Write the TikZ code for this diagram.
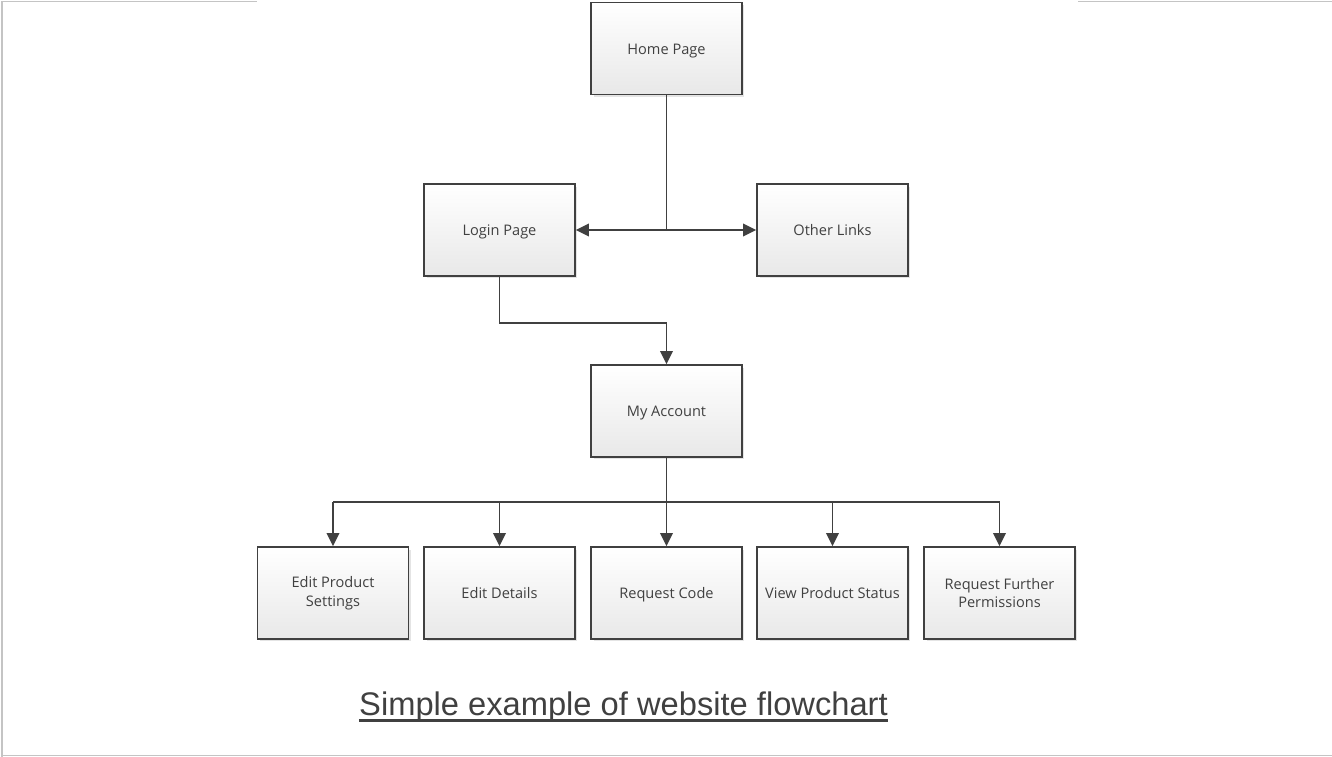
\documentclass[tikz,border=0pt]{standalone}
\usepackage{fontspec}
\setmainfont{Open Sans}
\newfontfamily\captionfont{Liberation Sans}
\usetikzlibrary{arrows.meta,shadows}
\definecolor{linegray}{HTML}{404040}
\definecolor{framegray}{HTML}{C4C4C4}

\begin{document}
\begin{tikzpicture}[
        x=0.02cm, y=-0.02cm,
        page/.style={draw=linegray, line width=1pt, top color=white, bottom color=black!9,
            minimum width=3.02cm, minimum height=1.84cm, align=center, text=linegray,
            font=\fontsize{8.3}{10.5}\selectfont,
            drop shadow={shadow xshift=0.5mm, shadow yshift=-0.5mm, opacity=0.3, fill=black!35}},
        single/.style={page, text height=1.6ex, text depth=0.4ex},
        link/.style={draw=linegray, line width=1.1pt, -{Triangle[length=2.6mm, width=2.5mm]}},
        wire/.style={draw=linegray, line width=1.1pt}
    ]
    \useasboundingbox (0,0) rectangle (1332,757);
    % frame
    \draw[framegray, line width=1.1pt] (2,757) -- (2,1.5) -- (257,1.5);
    \draw[framegray, line width=1.1pt] (1078,1.5) -- (1332,1.5);
    \draw[framegray, line width=1.1pt] (2,755.5) -- (1332,755.5);

    % pages
    \node[single] (home) at (666.5,48.5) {Home Page};
    \node[single] (login) at (499.5,230) {Login Page};
    \node[single] (other) at (832.5,230) {Other Links};
    \node[single] (account) at (666.5,411) {My Account};
    \node[page] (settings) at (333,593) {Edit Product\\Settings};
    \node[single] (details) at (499.5,593) {Edit Details};
    \node[single] (code) at (666.5,593) {Request Code};
    \node[single] (status) at (832.5,593) {View Product Status};
    \node[page] (perms) at (999.5,593) {Request Further\\Permissions};

    % links
    \coordinate (split) at (home.south |- login.east);
    \draw[wire] (home.south) -- (split);
    \draw[link] (split) -- (login.east);
    \draw[link] (split) -- (other.west);
    \draw[link] (login.south) -- ++(0,46) -| (account.north);
    \draw[wire] (account.south) -- ++(0,44) coordinate (bus);
    \draw[wire] (bus -| settings.north) -- (bus -| perms.north);
    \foreach \target in {settings,details,code,status,perms}
        \draw[link] (bus -| \target.north) -- (\target.north);

    % caption
    \node[anchor=base, inner sep=0pt, text=linegray, font=\captionfont\fontsize{18.6}{20}\selectfont]
        (caption) at (623.5,715) {Simple example of website flowchart};
    \draw[linegray, line width=1.3pt] ([yshift=-1.1mm]caption.base west) -- ([yshift=-1.1mm]caption.base east);
\end{tikzpicture}
\end{document}
